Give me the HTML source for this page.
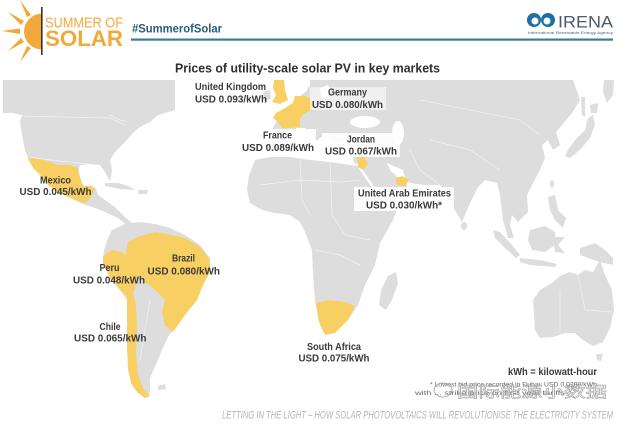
<!DOCTYPE html>
<html><head><meta charset="utf-8"><style>
html,body{margin:0;padding:0;background:#fff;}
svg{display:block;}
text{font-family:"Liberation Sans","Noto Sans CJK SC",sans-serif;}
</style></head><body>
<svg width="639" height="426" viewBox="0 0 639 426" xmlns="http://www.w3.org/2000/svg">
<rect width="639" height="426" fill="#fff"/>
<!-- Sun logo -->
<g fill="#f2a93b">
<path d="M42,13.5 A18,18 0 0 0 42,49.5 Z"/>
<polygon points="2,31 20,28.5 20,34"/>
<polygon points="8,12 24,21 21,25"/>
<polygon points="20,0 31,15 27,17"/>
<polygon points="8,51 21,38 24,42"/>
<polygon points="20,62 27,46 31,48"/>
</g>
<rect x="41" y="7" width="1.6" height="48" fill="#333"/>
<text x="45" y="27.3" font-size="14.5" fill="#f2a93b" textLength="78" lengthAdjust="spacingAndGlyphs">SUMMER OF</text>
<text x="45" y="46" font-size="22.5" font-weight="bold" fill="#f2a93b" textLength="78" lengthAdjust="spacingAndGlyphs">SOLAR</text>
<text x="132" y="32.7" font-size="12" font-weight="bold" fill="#2a5c78" textLength="90" lengthAdjust="spacingAndGlyphs">#SummerofSolar</text>
<rect x="131" y="38.5" width="482" height="2.2" fill="#3b7d8d"/>
<!-- IRENA -->
<circle cx="534" cy="20" r="7" fill="#1f6fa3"/>
<circle cx="548" cy="20" r="7" fill="#1f6fa3"/>
<circle cx="535" cy="21" r="3.5" fill="#fff"/>
<circle cx="547" cy="21" r="3.5" fill="#fff"/>
<text x="558" y="27.5" font-size="17" fill="#4a5b6c" textLength="55" lengthAdjust="spacingAndGlyphs">IRENA</text>
<text x="528" y="34" font-size="4" fill="#3a6a9a" textLength="85" lengthAdjust="spacingAndGlyphs">International Renewable Energy Agency</text>
<!-- Title -->
<text x="175" y="72.5" font-size="13" font-weight="bold" fill="#2e2e2e" textLength="265" lengthAdjust="spacingAndGlyphs">Prices of utility-scale solar PV in key markets</text>

<!-- Map -->
<g fill="#dddddd">
<polygon points="3,80 175,80 175,110 165,113 158,115 150,122 140,127 133,133 125,142 115,152 110,160 112,170 110,182 105,172 100,165 90,164 80,165 78,172 83,185 88,190 95,187 98,195 105,200 115,207 125,217 132,223 128,226 118,218 105,212 95,208 80,203 65,195 50,185 38,172 30,163 25,150 22,135 20,122 22,115 12,113 3,113"/>
<polygon points="105,183 118,183 128,186 135,190 120,189 105,186"/>
<polygon points="138,190 148,190 147,194 138,194"/>
<polygon points="112,230 125,224 140,222 155,224 170,228 185,235 200,245 210,258 210,272 203,285 197,300 185,315 173,330 168,337 162,350 157,362 150,378 150,393 145,398 138,393 132,385 128,370 127,345 127,320 127,300 120,290 110,278 103,263 104,250 108,238"/>
<polygon points="158,386 165,384 166,389 158,390"/>
<polygon points="310,80 573,80 580,100 572,113 562,125 556,132 560,145 553,150 548,140 542,145 545,158 540,170 532,185 527,195 528,212 518,222 512,215 510,225 514,238 508,238 503,220 500,195 497,183 485,180 478,187 470,203 462,222 452,205 445,190 440,185 425,185 410,183 405,178 408,190 400,200 385,205 372,195 365,180 358,168 353,160 355,148 345,143 335,140 325,135 320,138 315,142 312,136 305,128 297,128 290,133 285,142 283,150 268,152 262,145 263,133 272,130 276,122 282,115 292,107 300,100 302,92 310,86"/>
<polygon points="263,92 270,90 271,99 264,101"/>
<polygon points="255,160 270,157 290,157 310,160 330,162 350,165 362,167 372,183 385,203 398,207 392,222 380,243 375,265 365,285 358,305 348,320 335,333 325,335 319,322 315,300 313,275 312,250 305,232 300,222 290,215 275,213 262,210 250,203 247,190 249,175"/>
<polygon points="388,276 396,272 398,283 392,300 386,310 379,305 381,290"/>
<polygon points="568,150 575,140 585,130 588,118 593,115 595,125 590,138 580,150 570,158 565,156"/>
<polygon points="590,105 598,103 597,113 591,113"/>
<polygon points="581,97 585,97 585,117 582,115"/>
<polygon points="604,80 614,80 613,95 607,103 603,92"/>
<ellipse cx="464" cy="226" rx="3" ry="4"/>
<ellipse cx="552" cy="184" rx="2" ry="4"/>
<polygon points="493,230 500,232 512,245 520,255 516,258 505,248 495,238"/>
<polygon points="520,258 540,260 557,264 555,267 530,265 520,262"/>
<polygon points="530,230 545,226 555,232 555,245 545,252 532,250 528,240"/>
<polygon points="553,237 565,237 558,245 565,253 555,252"/>
<polygon points="548,197 555,195 558,210 566,218 563,228 555,220 550,210"/>
<polygon points="580,248 595,243 605,250 613,258 613,265 600,262 588,258 580,255"/>
<polygon points="533,300 540,290 552,283 560,276 570,272 578,275 585,270 593,272 600,260 605,275 612,290 614,310 610,328 603,342 593,346 583,340 575,333 565,333 553,337 540,338 535,330 534,315"/>
<polygon points="596,354 603,354 601,361 597,360"/>
</g>
<g fill="#fff">
<ellipse cx="365" cy="122" rx="15" ry="6"/>
<ellipse cx="398" cy="133" rx="6" ry="12"/>
<polygon points="387,163 403,170 405,178 397,177 390,170"/>
<polygon points="295,84 310,84 306,92 298,96 292,92"/>
<polygon points="320,88 328,85 331,91 325,99 321,96"/>
</g>
<polyline points="357,163 368,180 380,196 392,207" fill="none" stroke="#fff" stroke-width="2.5"/>
<polyline points="380,207 398,206" fill="none" stroke="#fff" stroke-width="2"/>
<g fill="none" stroke="#f2f2f2" stroke-width="0.7">
<polyline points="22,116 60,117 110,118 125,125"/>
<polyline points="30,157 50,160 70,162 88,164"/>
<polyline points="110,115 120,120 128,122"/>
<polyline points="260,185 300,180 340,182 360,180"/>
<polyline points="300,160 302,200 310,215"/>
<polyline points="330,162 332,215 345,235 370,240"/>
<polyline points="315,250 340,255 360,265"/>
<polyline points="420,100 470,110 520,120 540,135"/>
<polyline points="430,140 470,150 500,170"/>
<polyline points="410,150 420,170 440,185"/>
<polyline points="560,290 560,333"/>
<polyline points="578,275 585,310 612,312"/>
<polyline points="140,250 165,260 190,265"/>
<polyline points="150,300 145,330 140,360"/>
</g>
<g fill="#f8cf63">
<polygon points="28,158 45,160 58,165 70,165 78,168 80,178 83,186 92,186 95,190 90,198 85,203 70,198 58,192 48,185 40,175 33,168"/>
<polygon points="128,242 140,236 155,232 172,235 185,238 200,247 210,260 210,272 203,285 197,300 185,315 173,332 165,325 162,312 165,300 155,290 145,282 138,275 130,262 125,255"/>
<polygon points="103,256 112,250 122,252 130,262 138,275 136,285 133,293 127,297 120,290 110,278 103,263"/>
<polygon points="127,297 133,293 136,305 137,330 136,355 138,375 143,388 150,396 145,398 137,392 131,383 128,368 127,345 127,320"/>
<polygon points="274,80 284,80 285,90 288,100 280,104 272,102 276,95 273,88"/>
<polygon points="276,113 285,108 293,103 295,96 305,96 312,100 312,110 305,113 300,118 300,127 290,128 282,128 278,122 273,118"/>
<polygon points="357,157 365,157 368,164 363,170 358,167"/>
<polygon points="395,179 402,176 409,180 405,186 397,185"/>
<polygon points="316,303 330,300 345,302 355,306 348,320 335,333 325,335 319,322"/>
</g>
<rect x="310" y="87" width="76" height="23" fill="#fff" opacity="0.55"/>
<rect x="239" y="129" width="77" height="25" fill="#fff" opacity="0.9"/>
<rect x="322" y="133" width="78" height="24" fill="#fff" opacity="0.9"/>
<rect x="354" y="187" width="100" height="24" fill="#fff" opacity="0.9"/>

<g font-size="10" font-weight="bold" fill="#3a3a3a">
<text x="195" y="90" textLength="71" lengthAdjust="spacingAndGlyphs">United Kingdom</text>
<text x="195" y="102.5" textLength="72" lengthAdjust="spacingAndGlyphs">USD 0.093/kWh</text>
<text x="328" y="95.5" textLength="39" lengthAdjust="spacingAndGlyphs">Germany</text>
<text x="312" y="108" textLength="71" lengthAdjust="spacingAndGlyphs">USD 0.080/kWh</text>
<text x="263" y="138.5" textLength="29" lengthAdjust="spacingAndGlyphs">France</text>
<text x="242" y="151" textLength="72" lengthAdjust="spacingAndGlyphs">USD 0.089/kWh</text>
<text x="347" y="142.5" textLength="28" lengthAdjust="spacingAndGlyphs">Jordan</text>
<text x="325" y="154.3" textLength="72" lengthAdjust="spacingAndGlyphs">USD 0.067/kWh</text>
<text x="358" y="196.7" textLength="93" lengthAdjust="spacingAndGlyphs">United Arab Emirates</text>
<text x="366" y="208.3" textLength="76" lengthAdjust="spacingAndGlyphs">USD 0.030/kWh*</text>
<text x="40" y="183.3" textLength="31" lengthAdjust="spacingAndGlyphs">Mexico</text>
<text x="19.5" y="195" textLength="72" lengthAdjust="spacingAndGlyphs">USD 0.045/kWh</text>
<text x="172" y="261.7" textLength="23" lengthAdjust="spacingAndGlyphs">Brazil</text>
<text x="147.5" y="274.3" textLength="72.5" lengthAdjust="spacingAndGlyphs">USD 0.080/kWh</text>
<text x="99.5" y="271" textLength="20" lengthAdjust="spacingAndGlyphs">Peru</text>
<text x="73" y="283.3" textLength="72" lengthAdjust="spacingAndGlyphs">USD 0.048/kWh</text>
<text x="99.5" y="330" textLength="21" lengthAdjust="spacingAndGlyphs">Chile</text>
<text x="74" y="341.7" textLength="72.5" lengthAdjust="spacingAndGlyphs">USD 0.065/kWh</text>
<text x="307" y="350" textLength="54" lengthAdjust="spacingAndGlyphs">South Africa</text>
<text x="298.5" y="361.7" textLength="71" lengthAdjust="spacingAndGlyphs">USD 0.075/kWh</text>
<text x="508" y="375" textLength="89" lengthAdjust="spacingAndGlyphs">kWh = kilowatt-hour</text>
</g>
<text x="430" y="386.5" font-size="6" fill="#666" textLength="167" lengthAdjust="spacingAndGlyphs">* Lowest bid price recorded in Dubai: USD 0.0299/kWh</text>
<text x="415" y="395" font-size="6" fill="#666" textLength="150" lengthAdjust="spacingAndGlyphs">with ... strike price on first year tariffs</text>
<ellipse cx="443" cy="390" rx="9" ry="7" fill="none" stroke="#999" stroke-width="0.8"/>
<text x="457" y="397" font-size="15" fill="#fff" fill-opacity="0.4" stroke="#999" stroke-width="0.5" textLength="150" lengthAdjust="spacingAndGlyphs">国际能源小数据</text>
<text x="222" y="418.3" font-size="11" font-style="italic" fill="#b4b4b4" textLength="391" lengthAdjust="spacingAndGlyphs">LETTING IN THE LIGHT – HOW SOLAR PHOTOVOLTAICS WILL REVOLUTIONISE THE ELECTRICITY SYSTEM</text>
</svg>
</body></html>
